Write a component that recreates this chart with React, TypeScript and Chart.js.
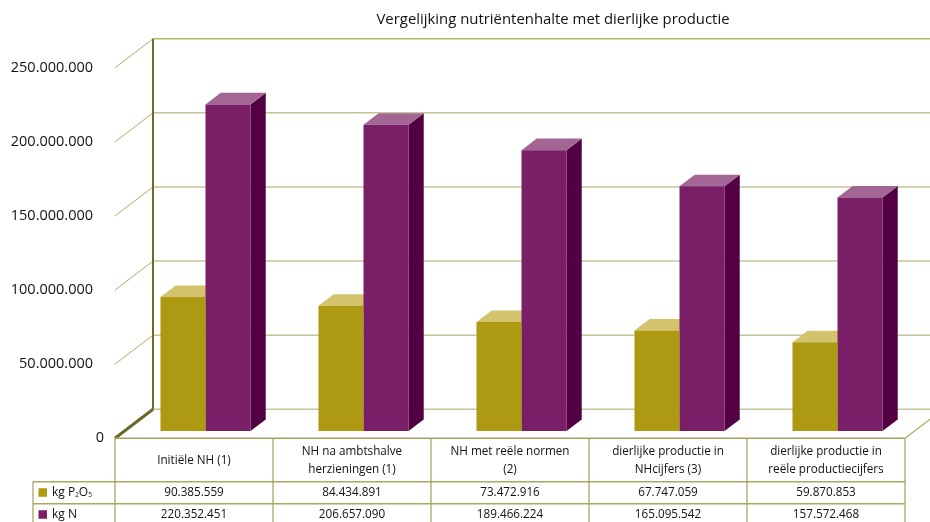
import React, { useEffect, useRef } from "react";
import { Chart, registerables } from "chart.js";

Chart.register(...registerables);

// Category labels (split over lines as they appear in the data table header)
const categories: string[][] = [
  ["Initiële NH (1)"],
  ["NH na ambtshalve", "herzieningen (1)"],
  ["NH met reële normen", "(2)"],
  ["dierlijke productie in", "NHcijfers (3)"],
  ["dierlijke productie in", "reële productiecijfers"],
];

const p2o5Values: number[] = [90385559, 84434891, 73472916, 67747059, 59870853];
const nitrogenValues: number[] = [220352451, 206657090, 189466224, 165095542, 157572468];

const yMin = 0;
const yMax = 250000000;
const yStep = 50000000;

const titleText = "Vergelijking nutriëntenhalte met dierlijke productie";

// Colours
const GOLD_FRONT = "#ad9912";
const GOLD_TOP = "#d2c36c";
const GOLD_SIDE = "#7b6c0a";
const PURPLE_FRONT = "#791e67";
const PURPLE_TOP = "#a26594";
const PURPLE_SIDE = "#520043";
const GRID = "#c6c59a";
const DIAG = "#aeac66";
const WALL_EDGE = "#6f6b2a";
const TABLE_LINE = "#aaa862";
const TEXT = "#111111";
const FONT = "'Open Sans', 'Noto Sans', sans-serif";

// 3D box: depth vector going backwards, bar plane sits a quarter of the way in
const DEPTH_X = 38;
const DEPTH_Y = -29;
const BAR_PLANE = 0.25;
const BAR_DEPTH = 0.4;
const WALL_SHIFT = -2;

const fmt = (v: number) => String(v).replace(/\B(?=(\d{3})+(?!\d))/g, ".");

const frontPt = (x: number, y: number): [number, number] => [
  x + WALL_SHIFT - BAR_PLANE * DEPTH_X,
  y - BAR_PLANE * DEPTH_Y,
];
const backPt = (x: number, y: number): [number, number] => [
  x + WALL_SHIFT + (1 - BAR_PLANE) * DEPTH_X,
  y + (1 - BAR_PLANE) * DEPTH_Y,
];

function line(ctx: CanvasRenderingContext2D, a: [number, number], b: [number, number], color: string, w: number) {
  ctx.beginPath();
  ctx.moveTo(a[0], a[1]);
  ctx.lineTo(b[0], b[1]);
  ctx.strokeStyle = color;
  ctx.lineWidth = w;
  ctx.stroke();
}

function poly(ctx: CanvasRenderingContext2D, pts: [number, number][], color: string) {
  ctx.beginPath();
  ctx.moveTo(pts[0][0], pts[0][1]);
  for (let i = 1; i < pts.length; i++) ctx.lineTo(pts[i][0], pts[i][1]);
  ctx.closePath();
  ctx.fillStyle = color;
  ctx.fill();
}

const sideColors = [GOLD_SIDE, PURPLE_SIDE];
const topColors = [GOLD_TOP, PURPLE_TOP];

const box3d = {
  id: "box3d",
  beforeDatasetsDraw(chart: any) {
    const { ctx, chartArea, scales } = chart;
    const ys = scales.y;
    const left = chartArea.left;
    const right = chartArea.right;
    ctx.save();
    ctx.lineCap = "butt";

    // back wall grid lines and left-wall diagonals
    for (const t of ys.ticks) {
      const py = ys.getPixelForValue(t.value);
      const bl = backPt(left, py);
      const br = backPt(right, py);
      const fl = frontPt(left, py);
      line(ctx, bl, br, t.value === yMax ? "#b4bb6a" : GRID, 1.5);
      if (t.value !== yMin) line(ctx, fl, bl, DIAG, 1);
    }
    const y0 = ys.getPixelForValue(yMin);
    const yTop = ys.getPixelForValue(yMax);
    // left back edge
    line(ctx, backPt(left, y0), backPt(left, yTop), WALL_EDGE, 2);
    // floor edges
    line(ctx, frontPt(left, y0), backPt(left, y0), "#6a6824", 3);
    line(ctx, frontPt(right, y0), backPt(right, y0), DIAG, 1.2);
    line(ctx, frontPt(left, y0), frontPt(right, y0), "#a5a35c", 1.5);

    // bar extrusions (tops and right sides); front faces are drawn by Chart.js
    const dx = BAR_DEPTH * DEPTH_X;
    const dy = BAR_DEPTH * DEPTH_Y;
    chart.data.datasets.forEach((_: any, di: number) => {
      const meta = chart.getDatasetMeta(di);
      meta.data.forEach((bar: any) => {
        const { x, y, base, width } = bar.getProps(["x", "y", "base", "width"], true);
        const l = x - width / 2;
        const r = x + width / 2;
        poly(ctx, [[r, y], [r + dx, y + dy], [r + dx, base + dy], [r, base]], sideColors[di]);
        poly(ctx, [[l, y], [r, y], [r + dx, y + dy], [l + dx, y + dy]], topColors[di]);
      });
    });
    ctx.restore();
  },
  afterDraw(chart: any) {
    const { ctx, chartArea, scales } = chart;
    const ys = scales.y;
    const xs = scales.x;
    ctx.save();

    // title
    ctx.fillStyle = TEXT;
    ctx.font = `14.9px ${FONT}`;
    ctx.textAlign = "center";
    ctx.textBaseline = "middle";
    ctx.fillText(titleText, 553, 20);

    // value axis labels on the front edge of the left wall
    ctx.font = `14.5px ${FONT}`;
    ctx.textAlign = "right";
    for (const t of ys.ticks) {
      const [, fy] = frontPt(chartArea.left, ys.getPixelForValue(t.value));
      // the zero label sits by the floor corner
      const lx = t.value === yMin ? 104 : 93;
      ctx.fillText(fmt(t.value), lx, fy);
    }

    // data table
    const y0 = ys.getPixelForValue(yMin);
    const [tableLeft, tableTop] = frontPt(chartArea.left, y0);
    const half = (xs.getPixelForValue(1) - xs.getPixelForValue(0)) / 2;
    const colEdges: number[] = [tableLeft];
    categories.forEach((_, i) => colEdges.push(frontPt(xs.getPixelForValue(i) + half, 0)[0]));
    const headerBottom = tableTop + 43.5;
    const rowH = 22;
    const legendLeft = 33;
    const rows = [
      { values: p2o5Values, color: GOLD_FRONT, sub: true },
      { values: nitrogenValues, color: PURPLE_FRONT, sub: false },
    ];
    const tableRight = colEdges[colEdges.length - 1];

    ctx.strokeStyle = TABLE_LINE;
    ctx.lineWidth = 1.3;
    // horizontal rules
    for (let r = 0; r <= rows.length; r++) {
      const ry = headerBottom + r * rowH;
      ctx.beginPath();
      ctx.moveTo(legendLeft, ry);
      ctx.lineTo(tableRight, ry);
      ctx.stroke();
    }
    // vertical rules
    const tableBottom = headerBottom + rows.length * rowH;
    colEdges.forEach((cx) => {
      ctx.beginPath();
      ctx.moveTo(cx, tableTop);
      ctx.lineTo(cx, tableBottom);
      ctx.stroke();
    });
    ctx.beginPath();
    ctx.moveTo(legendLeft, headerBottom);
    ctx.lineTo(legendLeft, tableBottom);
    ctx.stroke();

    // header text
    ctx.fillStyle = TEXT;
    ctx.font = `11.7px ${FONT}`;
    ctx.textAlign = "center";
    ctx.textBaseline = "middle";
    const headerMid = (tableTop + headerBottom) / 2;
    categories.forEach((lines, i) => {
      const cx = (colEdges[i] + colEdges[i + 1]) / 2;
      const lh = 17.5;
      lines.forEach((txt, k) => {
        ctx.fillText(txt, cx, headerMid + 0.5 + (k - (lines.length - 1) / 2) * lh);
      });
    });

    // rows
    rows.forEach((row, r) => {
      const cy = headerBottom + r * rowH + rowH / 2;
      ctx.fillStyle = row.color;
      ctx.fillRect(38.5, cy - 4.5, 8.5, 8.5);
      ctx.fillStyle = TEXT;
      ctx.textAlign = "left";
      ctx.font = `12px ${FONT}`;
      let tx = 52;
      if (row.sub) {
        const parts: [string, boolean][] = [["kg P", false], ["2", true], ["O", false], ["5", true]];
        parts.forEach(([s, small]) => {
          ctx.font = small ? `6.5px ${FONT}` : `12px ${FONT}`;
          ctx.fillText(s, tx, small ? cy + 2.5 : cy);
          tx += ctx.measureText(s).width;
        });
      } else {
        ctx.fillText("kg N", tx, cy);
      }
      ctx.font = `11.7px ${FONT}`;
      ctx.textAlign = "center";
      row.values.forEach((v, i) => {
        const cx = (colEdges[i] + colEdges[i + 1]) / 2;
        ctx.fillText(fmt(v), cx, cy);
      });
    });
    ctx.restore();
  },
};

export default function App() {
  const ref = useRef<HTMLCanvasElement | null>(null);
  useEffect(() => {
    if (!ref.current) return;
    const chart = new Chart(ref.current, {
      type: "bar",
      data: {
        labels: categories.map((c) => c.join(" ")),
        datasets: [
          { label: "kg P2O5", data: p2o5Values, backgroundColor: GOLD_FRONT, borderWidth: 0 },
          { label: "kg N", data: nitrogenValues, backgroundColor: PURPLE_FRONT, borderWidth: 0 },
        ],
      },
      options: {
        animation: false,
        responsive: false,
        devicePixelRatio: 1,
        layout: { padding: { left: 126.5, right: 13.5, top: 60.5, bottom: 91 } },
        datasets: { bar: { categoryPercentage: 0.57, barPercentage: 1 } },
        plugins: { legend: { display: false }, title: { display: false }, tooltip: { enabled: false } },
        scales: {
          x: { display: false, offset: true },
          y: { display: false, min: yMin, max: yMax, ticks: { stepSize: yStep } },
        },
      },
      plugins: [box3d],
    });
    return () => chart.destroy();
  }, []);
  return (
    <div style={{ position: "fixed", left: 0, top: 0, width: 930, height: 522, background: "#fff" }}>
      <canvas ref={ref} width={930} height={522} style={{ display: "block" }} />
    </div>
  );
}
